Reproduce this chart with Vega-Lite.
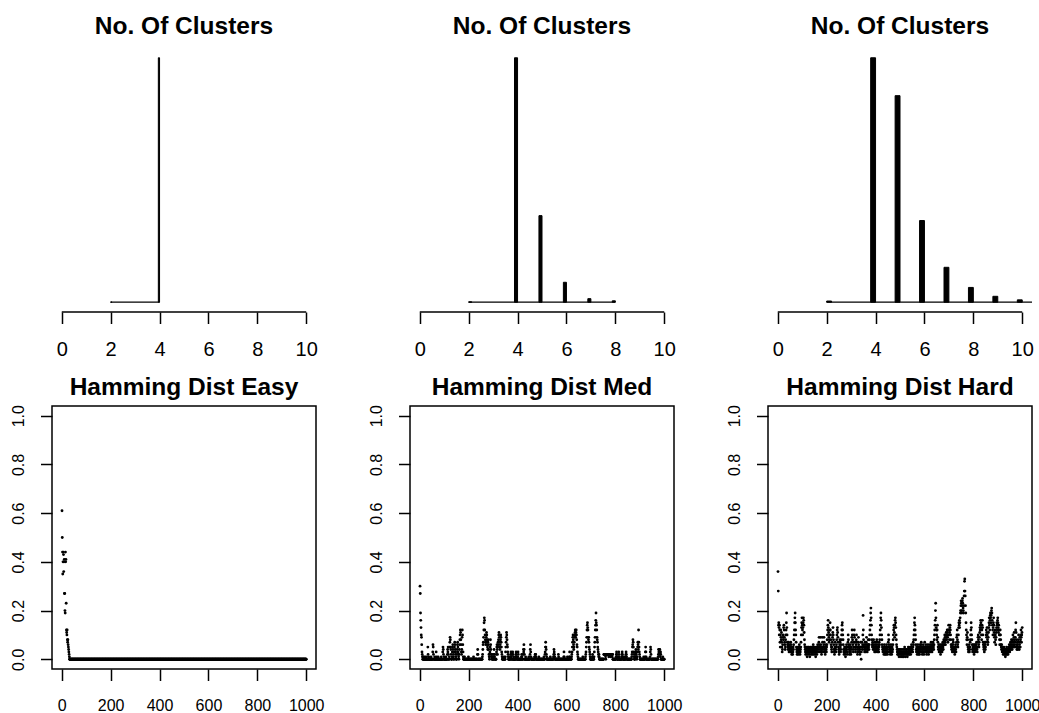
{
"$schema":"https://vega.github.io/schema/vega-lite/v6.json",
"padding":{"left":9,"top":14,"right":0,"bottom":0},
"background":"white",
"config":{
 "font":"Liberation Sans",
 "view":{"stroke":null},
 "axis":{"domain":false,"grid":false,"ticks":true,"tickColor":"#000","tickWidth":1.5,"tickSize":11.5,"labelColor":"#000","labelFont":"Liberation Sans","title":null,"labelOverlap":false,"labelFlush":false,"labelBound":false},
 "title":{"font":"Liberation Sans","fontSize":24.5,"fontWeight":"bold","color":"#000","baseline":"alphabetic","anchor":"middle","frame":"group"}
},
"datasets":{
 "hist":[
  {"p":1,"k":2,"c":1,"b0":2,"b1":2.05},{"p":1,"k":4,"c":999,"b0":3.95,"b1":4},
  {"p":2,"k":2,"c":1,"b0":2,"b1":2.125},{"p":2,"k":4,"c":686,"b0":3.875,"b1":4},{"p":2,"k":5,"c":243,"b0":4.875,"b1":5},{"p":2,"k":6,"c":56,"b0":5.875,"b1":6},{"p":2,"k":7,"c":10,"b0":6.875,"b1":7},{"p":2,"k":8,"c":4,"b0":7.875,"b1":8},
  {"p":3,"k":2,"c":2,"b0":2,"b1":2.2},{"p":3,"k":4,"c":413,"b0":3.8,"b1":4},{"p":3,"k":5,"c":349,"b0":4.8,"b1":5},{"p":3,"k":6,"c":138,"b0":5.8,"b1":6},{"p":3,"k":7,"c":59,"b0":6.8,"b1":7},{"p":3,"k":8,"c":25,"b0":7.8,"b1":8},{"p":3,"k":9,"c":10,"b0":8.8,"b1":9},{"p":3,"k":10,"c":4,"b0":9.8,"b1":10}
 ],
 "range":[{"p":1,"lo":2,"hi":4},{"p":2,"lo":2,"hi":8},{"p":3,"lo":2,"hi":11}],
 "ham":[
{"i":1,"e":0.61,"m":0.3,"h":0.36},{"i":2,"e":0.5,"m":0.27,"h":0.28},{"i":3,"e":0.44,"m":0.19,"h":0.14},{"i":4,"e":0.35,"m":0.16,"h":0.15},{"i":5,"e":0.4,"m":0.13,"h":0.13},{"i":6,"e":0.44,"m":0.1,"h":0.1},{"i":7,"e":0.43,"m":0.09,"h":0.14},{"i":8,"e":0.36,"m":0.06,"h":0.12},{"i":9,"e":0.4,"m":0.03,"h":0.07},{"i":10,"e":0.41,"m":0.02,"h":0.05},
{"i":11,"e":0.27,"m":0.01,"h":0.1},{"i":12,"e":0.27,"m":0,"h":0.12},{"i":13,"e":0.2,"m":0.01,"h":0.09},{"i":14,"e":0.19,"m":0,"h":0.08},{"i":15,"e":0.44,"m":0,"h":0.11},{"i":16,"e":0.4,"m":0.01,"h":0.07},{"i":17,"e":0.41,"m":0,"h":0.05},{"i":18,"e":0.23,"m":0,"h":0.03},{"i":19,"e":0.12,"m":0,"h":0.04},{"i":20,"e":0.11,"m":0,"h":0.06},
{"i":21,"e":0.1,"m":0,"h":0.09},{"i":22,"e":0.12,"m":0.01,"h":0.1},{"i":23,"e":0.08,"m":0,"h":0.08},{"i":24,"e":0.07,"m":0,"h":0.13},{"i":25,"e":0.08,"m":0,"h":0.14},{"i":26,"e":0.06,"m":0,"h":0.12},{"i":27,"e":0.05,"m":0,"h":0.09},{"i":28,"e":0.04,"m":0.01,"h":0.07},{"i":29,"e":0.03,"m":0,"h":0.06},{"i":30,"e":0.02,"m":0,"h":0.04},
{"i":31,"e":0.01,"m":0,"h":0.05},{"i":32,"e":0,"m":0,"h":0.08},{"i":33,"e":0,"m":0.05,"h":0.1},{"i":34,"e":0,"m":0.02,"h":0.12},{"i":35,"e":0,"m":0,"h":0.15},{"i":36,"e":0,"m":0,"h":0.19},{"i":37,"e":0,"m":0.01,"h":0.13},{"i":38,"e":0,"m":0,"h":0.1},{"i":39,"e":0,"m":0,"h":0.07},{"i":40,"e":0,"m":0,"h":0.06},
{"i":41,"e":0,"m":0,"h":0.05},{"i":42,"e":0,"m":0,"h":0.04},{"i":43,"e":0,"m":0,"h":0.06},{"i":44,"e":0,"m":0,"h":0.07},{"i":45,"e":0,"m":0,"h":0.05},{"i":46,"e":0,"m":0.01,"h":0.03},{"i":47,"e":0,"m":0,"h":0.04},{"i":48,"e":0,"m":0,"h":0.06},{"i":49,"e":0,"m":0,"h":0.05},{"i":50,"e":0,"m":0,"h":0.04},
{"i":51,"e":0,"m":0,"h":0.03},{"i":52,"e":0,"m":0,"h":0.05},{"i":53,"e":0,"m":0.03,"h":0.07},{"i":54,"e":0,"m":0.06,"h":0.06},{"i":55,"e":0,"m":0.05,"h":0.04},{"i":56,"e":0,"m":0.02,"h":0.03},{"i":57,"e":0,"m":0,"h":0.02},{"i":58,"e":0,"m":0,"h":0.04},{"i":59,"e":0,"m":0,"h":0.05},{"i":60,"e":0,"m":0,"h":0.03},
{"i":61,"e":0,"m":0.01,"h":0.02},{"i":62,"e":0,"m":0,"h":0.03},{"i":63,"e":0,"m":0,"h":0.05},{"i":64,"e":0,"m":0,"h":0.04},{"i":65,"e":0,"m":0,"h":0.06},{"i":66,"e":0,"m":0,"h":0.08},{"i":67,"e":0,"m":0.03,"h":0.1},{"i":68,"e":0,"m":0.01,"h":0.12},{"i":69,"e":0,"m":0,"h":0.15},{"i":70,"e":0,"m":0,"h":0.17},
{"i":71,"e":0,"m":0,"h":0.19},{"i":72,"e":0,"m":0,"h":0.15},{"i":73,"e":0,"m":0,"h":0.12},{"i":74,"e":0,"m":0,"h":0.1},{"i":75,"e":0,"m":0.01,"h":0.07},{"i":76,"e":0,"m":0,"h":0.05},{"i":77,"e":0,"m":0,"h":0.04},{"i":78,"e":0,"m":0,"h":0.03},{"i":79,"e":0,"m":0,"h":0.02},{"i":80,"e":0,"m":0,"h":0.03},
{"i":81,"e":0,"m":0,"h":0.04},{"i":82,"e":0,"m":0,"h":0.05},{"i":83,"e":0,"m":0,"h":0.03},{"i":84,"e":0,"m":0,"h":0.02},{"i":85,"e":0,"m":0,"h":0.04},{"i":86,"e":0,"m":0,"h":0.03},{"i":87,"e":0,"m":0,"h":0.05},{"i":88,"e":0,"m":0.01,"h":0.06},{"i":89,"e":0,"m":0,"h":0.04},{"i":90,"e":0,"m":0,"h":0.03},
{"i":91,"e":0,"m":0,"h":0.02},{"i":92,"e":0,"m":0,"h":0.03},{"i":93,"e":0,"m":0,"h":0.04},{"i":94,"e":0,"m":0.03,"h":0.05},{"i":95,"e":0,"m":0.05,"h":0.07},{"i":96,"e":0,"m":0.04,"h":0.1},{"i":97,"e":0,"m":0.02,"h":0.13},{"i":98,"e":0,"m":0,"h":0.15},{"i":99,"e":0,"m":0,"h":0.17},{"i":100,"e":0,"m":0.01,"h":0.14},
{"i":101,"e":0,"m":0,"h":0.12},{"i":102,"e":0,"m":0,"h":0.1},{"i":103,"e":0,"m":0,"h":0.13},{"i":104,"e":0,"m":0,"h":0.15},{"i":105,"e":0,"m":0,"h":0.17},{"i":106,"e":0,"m":0,"h":0.16},{"i":107,"e":0,"m":0.01,"h":0.14},{"i":108,"e":0,"m":0,"h":0.11},{"i":109,"e":0,"m":0,"h":0.08},{"i":110,"e":0,"m":0,"h":0.06},
{"i":111,"e":0,"m":0,"h":0.05},{"i":112,"e":0,"m":0,"h":0.04},{"i":113,"e":0,"m":0.02,"h":0.03},{"i":114,"e":0,"m":0.04,"h":0.02},{"i":115,"e":0,"m":0.03,"h":0.04},{"i":116,"e":0,"m":0.05,"h":0.03},{"i":117,"e":0,"m":0.02,"h":0.05},{"i":118,"e":0,"m":0,"h":0.04},{"i":119,"e":0,"m":0,"h":0.02},{"i":120,"e":0,"m":0,"h":0.01},
{"i":121,"e":0,"m":0.01,"h":0.03},{"i":122,"e":0,"m":0.05,"h":0.04},{"i":123,"e":0,"m":0.07,"h":0.05},{"i":124,"e":0,"m":0.09,"h":0.03},{"i":125,"e":0,"m":0.08,"h":0.02},{"i":126,"e":0,"m":0.05,"h":0.04},{"i":127,"e":0,"m":0.04,"h":0.05},{"i":128,"e":0,"m":0.02,"h":0.04},{"i":129,"e":0,"m":0,"h":0.03},{"i":130,"e":0,"m":0,"h":0.02},
{"i":131,"e":0,"m":0,"h":0.01},{"i":132,"e":0,"m":0.01,"h":0.03},{"i":133,"e":0,"m":0.03,"h":0.04},{"i":134,"e":0,"m":0.05,"h":0.05},{"i":135,"e":0,"m":0.06,"h":0.04},{"i":136,"e":0,"m":0.04,"h":0.03},{"i":137,"e":0,"m":0.02,"h":0.02},{"i":138,"e":0,"m":0.01,"h":0.03},{"i":139,"e":0,"m":0,"h":0.05},{"i":140,"e":0,"m":0,"h":0.04},
{"i":141,"e":0,"m":0.03,"h":0.03},{"i":142,"e":0,"m":0.05,"h":0.02},{"i":143,"e":0,"m":0.07,"h":0.04},{"i":144,"e":0,"m":0.06,"h":0.05},{"i":145,"e":0,"m":0.04,"h":0.06},{"i":146,"e":0,"m":0.02,"h":0.04},{"i":147,"e":0,"m":0.03,"h":0.03},{"i":148,"e":0,"m":0.01,"h":0.02},{"i":149,"e":0,"m":0,"h":0.03},{"i":150,"e":0,"m":0,"h":0.04},
{"i":151,"e":0,"m":0,"h":0.05},{"i":152,"e":0,"m":0.02,"h":0.04},{"i":153,"e":0,"m":0.04,"h":0.03},{"i":154,"e":0,"m":0.06,"h":0.02},{"i":155,"e":0,"m":0.07,"h":0.01},{"i":156,"e":0,"m":0.05,"h":0.03},{"i":157,"e":0,"m":0.03,"h":0.04},{"i":158,"e":0,"m":0.02,"h":0.05},{"i":159,"e":0,"m":0.01,"h":0.03},{"i":160,"e":0,"m":0,"h":0.02},
{"i":161,"e":0,"m":0.02,"h":0.04},{"i":162,"e":0,"m":0.04,"h":0.05},{"i":163,"e":0,"m":0.06,"h":0.06},{"i":164,"e":0,"m":0.08,"h":0.05},{"i":165,"e":0,"m":0.1,"h":0.04},{"i":166,"e":0,"m":0.12,"h":0.03},{"i":167,"e":0,"m":0.11,"h":0.05},{"i":168,"e":0,"m":0.08,"h":0.07},{"i":169,"e":0,"m":0.06,"h":0.09},{"i":170,"e":0,"m":0.03,"h":0.06},
{"i":171,"e":0,"m":0.02,"h":0.05},{"i":172,"e":0,"m":0.04,"h":0.04},{"i":173,"e":0,"m":0.09,"h":0.03},{"i":174,"e":0,"m":0.12,"h":0.05},{"i":175,"e":0,"m":0.1,"h":0.09},{"i":176,"e":0,"m":0.06,"h":0.06},{"i":177,"e":0,"m":0.03,"h":0.04},{"i":178,"e":0,"m":0.01,"h":0.03},{"i":179,"e":0,"m":0,"h":0.02},{"i":180,"e":0,"m":0,"h":0.04},
{"i":181,"e":0,"m":0,"h":0.05},{"i":182,"e":0,"m":0,"h":0.09},{"i":183,"e":0,"m":0.01,"h":0.07},{"i":184,"e":0,"m":0,"h":0.05},{"i":185,"e":0,"m":0,"h":0.04},{"i":186,"e":0,"m":0,"h":0.03},{"i":187,"e":0,"m":0,"h":0.05},{"i":188,"e":0,"m":0,"h":0.06},{"i":189,"e":0,"m":0,"h":0.09},{"i":190,"e":0,"m":0,"h":0.07},
{"i":191,"e":0,"m":0,"h":0.05},{"i":192,"e":0,"m":0,"h":0.04},{"i":193,"e":0,"m":0,"h":0.03},{"i":194,"e":0,"m":0,"h":0.02},{"i":195,"e":0,"m":0,"h":0.04},{"i":196,"e":0,"m":0,"h":0.05},{"i":197,"e":0,"m":0,"h":0.06},{"i":198,"e":0,"m":0,"h":0.04},{"i":199,"e":0,"m":0.01,"h":0.03},{"i":200,"e":0,"m":0,"h":0.05},
{"i":201,"e":0,"m":0,"h":0.06},{"i":202,"e":0,"m":0,"h":0.08},{"i":203,"e":0,"m":0,"h":0.1},{"i":204,"e":0,"m":0,"h":0.12},{"i":205,"e":0,"m":0,"h":0.14},{"i":206,"e":0,"m":0,"h":0.16},{"i":207,"e":0,"m":0,"h":0.13},{"i":208,"e":0,"m":0,"h":0.11},{"i":209,"e":0,"m":0,"h":0.09},{"i":210,"e":0,"m":0,"h":0.07},
{"i":211,"e":0,"m":0,"h":0.08},{"i":212,"e":0,"m":0,"h":0.1},{"i":213,"e":0,"m":0,"h":0.12},{"i":214,"e":0,"m":0,"h":0.15},{"i":215,"e":0,"m":0,"h":0.12},{"i":216,"e":0,"m":0,"h":0.1},{"i":217,"e":0,"m":0,"h":0.08},{"i":218,"e":0,"m":0,"h":0.06},{"i":219,"e":0,"m":0,"h":0.05},{"i":220,"e":0,"m":0.01,"h":0.04},
{"i":221,"e":0,"m":0,"h":0.03},{"i":222,"e":0,"m":0,"h":0.05},{"i":223,"e":0,"m":0,"h":0.07},{"i":224,"e":0,"m":0,"h":0.09},{"i":225,"e":0,"m":0,"h":0.11},{"i":226,"e":0,"m":0,"h":0.13},{"i":227,"e":0,"m":0,"h":0.1},{"i":228,"e":0,"m":0,"h":0.08},{"i":229,"e":0,"m":0,"h":0.06},{"i":230,"e":0,"m":0,"h":0.04},
{"i":231,"e":0,"m":0,"h":0.03},{"i":232,"e":0,"m":0,"h":0.02},{"i":233,"e":0,"m":0,"h":0.04},{"i":234,"e":0,"m":0,"h":0.05},{"i":235,"e":0,"m":0,"h":0.07},{"i":236,"e":0,"m":0.02,"h":0.05},{"i":237,"e":0,"m":0.04,"h":0.04},{"i":238,"e":0,"m":0.02,"h":0.03},{"i":239,"e":0,"m":0,"h":0.05},{"i":240,"e":0,"m":0,"h":0.06},
{"i":241,"e":0,"m":0,"h":0.08},{"i":242,"e":0,"m":0,"h":0.1},{"i":243,"e":0,"m":0,"h":0.12},{"i":244,"e":0,"m":0,"h":0.13},{"i":245,"e":0,"m":0,"h":0.11},{"i":246,"e":0,"m":0,"h":0.09},{"i":247,"e":0,"m":0,"h":0.07},{"i":248,"e":0,"m":0,"h":0.05},{"i":249,"e":0,"m":0,"h":0.04},{"i":250,"e":0,"m":0,"h":0.03},
{"i":251,"e":0,"m":0,"h":0.02},{"i":252,"e":0,"m":0,"h":0.04},{"i":253,"e":0,"m":0,"h":0.06},{"i":254,"e":0,"m":0,"h":0.08},{"i":255,"e":0,"m":0,"h":0.07},{"i":256,"e":0,"m":0.01,"h":0.05},{"i":257,"e":0,"m":0.02,"h":0.03},{"i":258,"e":0,"m":0.04,"h":0.04},{"i":259,"e":0,"m":0.06,"h":0.06},{"i":260,"e":0,"m":0.07,"h":0.08},
{"i":261,"e":0,"m":0.09,"h":0.1},{"i":262,"e":0,"m":0.12,"h":0.12},{"i":263,"e":0,"m":0.15,"h":0.14},{"i":264,"e":0,"m":0.17,"h":0.15},{"i":265,"e":0,"m":0.16,"h":0.12},{"i":266,"e":0,"m":0.12,"h":0.1},{"i":267,"e":0,"m":0.1,"h":0.08},{"i":268,"e":0,"m":0.08,"h":0.06},{"i":269,"e":0,"m":0.07,"h":0.04},{"i":270,"e":0,"m":0.06,"h":0.03},
{"i":271,"e":0,"m":0.07,"h":0.02},{"i":272,"e":0,"m":0.09,"h":0.03},{"i":273,"e":0,"m":0.11,"h":0.05},{"i":274,"e":0,"m":0.1,"h":0.04},{"i":275,"e":0,"m":0.08,"h":0.03},{"i":276,"e":0,"m":0.06,"h":0.02},{"i":277,"e":0,"m":0.05,"h":0.01},{"i":278,"e":0,"m":0.04,"h":0.03},{"i":279,"e":0,"m":0.07,"h":0.04},{"i":280,"e":0,"m":0.08,"h":0.05},
{"i":281,"e":0,"m":0.06,"h":0.06},{"i":282,"e":0,"m":0.04,"h":0.04},{"i":283,"e":0,"m":0.02,"h":0.03},{"i":284,"e":0,"m":0.01,"h":0.02},{"i":285,"e":0,"m":0,"h":0.03},{"i":286,"e":0,"m":0.02,"h":0.05},{"i":287,"e":0,"m":0.03,"h":0.07},{"i":288,"e":0,"m":0.05,"h":0.1},{"i":289,"e":0,"m":0.08,"h":0.08},{"i":290,"e":0,"m":0.06,"h":0.06},
{"i":291,"e":0,"m":0.04,"h":0.05},{"i":292,"e":0,"m":0.02,"h":0.04},{"i":293,"e":0,"m":0.01,"h":0.02},{"i":294,"e":0,"m":0,"h":0.03},{"i":295,"e":0,"m":0.01,"h":0.04},{"i":296,"e":0,"m":0.02,"h":0.06},{"i":297,"e":0,"m":0.01,"h":0.05},{"i":298,"e":0,"m":0,"h":0.03},{"i":299,"e":0,"m":0,"h":0.02},{"i":300,"e":0,"m":0,"h":0.04},
{"i":301,"e":0,"m":0,"h":0.05},{"i":302,"e":0,"m":0.01,"h":0.07},{"i":303,"e":0,"m":0.02,"h":0.09},{"i":304,"e":0,"m":0.04,"h":0.12},{"i":305,"e":0,"m":0.02,"h":0.1},{"i":306,"e":0,"m":0.01,"h":0.08},{"i":307,"e":0,"m":0,"h":0.06},{"i":308,"e":0,"m":0,"h":0.04},{"i":309,"e":0,"m":0,"h":0.03},{"i":310,"e":0,"m":0,"h":0.05},
{"i":311,"e":0,"m":0,"h":0.07},{"i":312,"e":0,"m":0,"h":0.1},{"i":313,"e":0,"m":0.02,"h":0.12},{"i":314,"e":0,"m":0.03,"h":0.09},{"i":315,"e":0,"m":0.05,"h":0.07},{"i":316,"e":0,"m":0.06,"h":0.05},{"i":317,"e":0,"m":0.04,"h":0.04},{"i":318,"e":0,"m":0.02,"h":0.03},{"i":319,"e":0,"m":0.05,"h":0.05},{"i":320,"e":0,"m":0.07,"h":0.06},
{"i":321,"e":0,"m":0.06,"h":0.08},{"i":322,"e":0,"m":0.08,"h":0.1},{"i":323,"e":0,"m":0.1,"h":0.07},{"i":324,"e":0,"m":0.11,"h":0.05},{"i":325,"e":0,"m":0.09,"h":0.04},{"i":326,"e":0,"m":0.07,"h":0.02},{"i":327,"e":0,"m":0.05,"h":0.03},{"i":328,"e":0,"m":0.04,"h":0.05},{"i":329,"e":0,"m":0.06,"h":0.07},{"i":330,"e":0,"m":0.08,"h":0.09},
{"i":331,"e":0,"m":0.1,"h":0.06},{"i":332,"e":0,"m":0.09,"h":0.04},{"i":333,"e":0,"m":0.07,"h":0.03},{"i":334,"e":0,"m":0.05,"h":0.05},{"i":335,"e":0,"m":0.03,"h":0.04},{"i":336,"e":0,"m":0.02,"h":0.02},{"i":337,"e":0,"m":0.01,"h":0.03},{"i":338,"e":0,"m":0,"h":0.05},{"i":339,"e":0,"m":0,"h":0.07},{"i":340,"e":0,"m":0,"h":0.05},
{"i":341,"e":0,"m":0,"h":0},{"i":342,"e":0,"m":0,"h":0.03},{"i":343,"e":0,"m":0,"h":0.05},{"i":344,"e":0,"m":0.01,"h":0.07},{"i":345,"e":0,"m":0,"h":0.05},{"i":346,"e":0,"m":0,"h":0.04},{"i":347,"e":0,"m":0,"h":0.06},{"i":348,"e":0,"m":0,"h":0.1},{"i":349,"e":0,"m":0,"h":0.18},{"i":350,"e":0,"m":0.01,"h":0.12},
{"i":351,"e":0,"m":0.03,"h":0.08},{"i":352,"e":0,"m":0.05,"h":0.06},{"i":353,"e":0,"m":0.07,"h":0.05},{"i":354,"e":0,"m":0.09,"h":0.04},{"i":355,"e":0,"m":0.11,"h":0.03},{"i":356,"e":0,"m":0.1,"h":0.05},{"i":357,"e":0,"m":0.08,"h":0.07},{"i":358,"e":0,"m":0.06,"h":0.06},{"i":359,"e":0,"m":0.05,"h":0.04},{"i":360,"e":0,"m":0.03,"h":0.03},
{"i":361,"e":0,"m":0.02,"h":0.05},{"i":362,"e":0,"m":0.01,"h":0.07},{"i":363,"e":0,"m":0,"h":0.09},{"i":364,"e":0,"m":0,"h":0.06},{"i":365,"e":0,"m":0,"h":0.04},{"i":366,"e":0,"m":0.01,"h":0.03},{"i":367,"e":0,"m":0,"h":0.05},{"i":368,"e":0,"m":0,"h":0.04},{"i":369,"e":0,"m":0,"h":0.06},{"i":370,"e":0,"m":0,"h":0.08},
{"i":371,"e":0,"m":0.01,"h":0.06},{"i":372,"e":0,"m":0.02,"h":0.05},{"i":373,"e":0,"m":0.03,"h":0.04},{"i":374,"e":0,"m":0.02,"h":0.06},{"i":375,"e":0,"m":0.01,"h":0.08},{"i":376,"e":0,"m":0,"h":0.1},{"i":377,"e":0,"m":0,"h":0.12},{"i":378,"e":0,"m":0,"h":0.14},{"i":379,"e":0,"m":0.02,"h":0.16},{"i":380,"e":0,"m":0.03,"h":0.19},
{"i":381,"e":0,"m":0.02,"h":0.21},{"i":382,"e":0,"m":0,"h":0.17},{"i":383,"e":0,"m":0,"h":0.14},{"i":384,"e":0,"m":0.01,"h":0.1},{"i":385,"e":0,"m":0,"h":0.08},{"i":386,"e":0,"m":0,"h":0.06},{"i":387,"e":0,"m":0,"h":0.05},{"i":388,"e":0,"m":0,"h":0.07},{"i":389,"e":0,"m":0,"h":0.06},{"i":390,"e":0,"m":0,"h":0.04},
{"i":391,"e":0,"m":0,"h":0.05},{"i":392,"e":0,"m":0.01,"h":0.08},{"i":393,"e":0,"m":0.02,"h":0.06},{"i":394,"e":0,"m":0.03,"h":0.05},{"i":395,"e":0,"m":0.02,"h":0.04},{"i":396,"e":0,"m":0.01,"h":0.03},{"i":397,"e":0,"m":0,"h":0.05},{"i":398,"e":0,"m":0,"h":0.07},{"i":399,"e":0,"m":0,"h":0.06},{"i":400,"e":0,"m":0,"h":0.04},
{"i":401,"e":0,"m":0.01,"h":0.03},{"i":402,"e":0,"m":0.03,"h":0.05},{"i":403,"e":0,"m":0.02,"h":0.04},{"i":404,"e":0,"m":0,"h":0.06},{"i":405,"e":0,"m":0,"h":0.08},{"i":406,"e":0,"m":0,"h":0.07},{"i":407,"e":0,"m":0,"h":0.05},{"i":408,"e":0,"m":0,"h":0.04},{"i":409,"e":0,"m":0,"h":0.03},{"i":410,"e":0,"m":0,"h":0.05},
{"i":411,"e":0,"m":0,"h":0.06},{"i":412,"e":0,"m":0,"h":0.04},{"i":413,"e":0,"m":0,"h":0.03},{"i":414,"e":0,"m":0,"h":0.05},{"i":415,"e":0,"m":0,"h":0.07},{"i":416,"e":0,"m":0.01,"h":0.06},{"i":417,"e":0,"m":0.02,"h":0.08},{"i":418,"e":0,"m":0.01,"h":0.1},{"i":419,"e":0,"m":0,"h":0.12},{"i":420,"e":0,"m":0,"h":0.14},
{"i":421,"e":0,"m":0,"h":0.17},{"i":422,"e":0,"m":0,"h":0.19},{"i":423,"e":0,"m":0.02,"h":0.16},{"i":424,"e":0,"m":0.04,"h":0.13},{"i":425,"e":0,"m":0.03,"h":0.1},{"i":426,"e":0,"m":0.06,"h":0.08},{"i":427,"e":0,"m":0.04,"h":0.06},{"i":428,"e":0,"m":0.02,"h":0.05},{"i":429,"e":0,"m":0,"h":0.04},{"i":430,"e":0,"m":0,"h":0.03},
{"i":431,"e":0,"m":0,"h":0.04},{"i":432,"e":0,"m":0,"h":0.05},{"i":433,"e":0,"m":0.01,"h":0.03},{"i":434,"e":0,"m":0,"h":0.02},{"i":435,"e":0,"m":0,"h":0.04},{"i":436,"e":0,"m":0,"h":0.06},{"i":437,"e":0,"m":0,"h":0.05},{"i":438,"e":0,"m":0,"h":0.03},{"i":439,"e":0,"m":0,"h":0.02},{"i":440,"e":0,"m":0,"h":0.04},
{"i":441,"e":0,"m":0,"h":0.05},{"i":442,"e":0,"m":0,"h":0.03},{"i":443,"e":0,"m":0,"h":0.02},{"i":444,"e":0,"m":0,"h":0.04},{"i":445,"e":0,"m":0,"h":0.06},{"i":446,"e":0,"m":0.01,"h":0.05},{"i":447,"e":0,"m":0,"h":0.03},{"i":448,"e":0,"m":0,"h":0.04},{"i":449,"e":0,"m":0,"h":0.02},{"i":450,"e":0,"m":0,"h":0.03},
{"i":451,"e":0,"m":0.02,"h":0.05},{"i":452,"e":0,"m":0.04,"h":0.07},{"i":453,"e":0,"m":0.06,"h":0.1},{"i":454,"e":0,"m":0.03,"h":0.08},{"i":455,"e":0,"m":0.01,"h":0.06},{"i":456,"e":0,"m":0,"h":0.04},{"i":457,"e":0,"m":0,"h":0.03},{"i":458,"e":0,"m":0,"h":0.05},{"i":459,"e":0,"m":0,"h":0.04},{"i":460,"e":0,"m":0,"h":0.02},
{"i":461,"e":0,"m":0,"h":0.03},{"i":462,"e":0,"m":0,"h":0.04},{"i":463,"e":0,"m":0,"h":0.06},{"i":464,"e":0,"m":0,"h":0.05},{"i":465,"e":0,"m":0,"h":0.03},{"i":466,"e":0,"m":0,"h":0.02},{"i":467,"e":0,"m":0,"h":0.04},{"i":468,"e":0,"m":0,"h":0.05},{"i":469,"e":0,"m":0.01,"h":0.03},{"i":470,"e":0,"m":0,"h":0.04},
{"i":471,"e":0,"m":0,"h":0.06},{"i":472,"e":0,"m":0.02,"h":0.08},{"i":473,"e":0,"m":0.02,"h":0.1},{"i":474,"e":0,"m":0.02,"h":0.12},{"i":475,"e":0,"m":0.01,"h":0.14},{"i":476,"e":0,"m":0,"h":0.13},{"i":477,"e":0,"m":0,"h":0.11},{"i":478,"e":0,"m":0,"h":0.09},{"i":479,"e":0,"m":0,"h":0.14},{"i":480,"e":0,"m":0,"h":0.16},
{"i":481,"e":0,"m":0,"h":0.17},{"i":482,"e":0,"m":0,"h":0.15},{"i":483,"e":0,"m":0,"h":0.13},{"i":484,"e":0,"m":0,"h":0.1},{"i":485,"e":0,"m":0,"h":0.08},{"i":486,"e":0,"m":0,"h":0.06},{"i":487,"e":0,"m":0.01,"h":0.05},{"i":488,"e":0,"m":0,"h":0.04},{"i":489,"e":0,"m":0,"h":0.03},{"i":490,"e":0,"m":0,"h":0.02},
{"i":491,"e":0,"m":0,"h":0.03},{"i":492,"e":0,"m":0,"h":0.02},{"i":493,"e":0,"m":0,"h":0.04},{"i":494,"e":0,"m":0,"h":0.03},{"i":495,"e":0,"m":0,"h":0.02},{"i":496,"e":0,"m":0,"h":0.01},{"i":497,"e":0,"m":0,"h":0.03},{"i":498,"e":0,"m":0,"h":0.04},{"i":499,"e":0,"m":0,"h":0.02},{"i":500,"e":0,"m":0,"h":0.03},
{"i":501,"e":0,"m":0,"h":0.04},{"i":502,"e":0,"m":0,"h":0.03},{"i":503,"e":0,"m":0,"h":0.02},{"i":504,"e":0,"m":0,"h":0.01},{"i":505,"e":0,"m":0,"h":0.02},{"i":506,"e":0,"m":0,"h":0.03},{"i":507,"e":0,"m":0,"h":0.04},{"i":508,"e":0,"m":0.01,"h":0.02},{"i":509,"e":0,"m":0,"h":0.01},{"i":510,"e":0,"m":0,"h":0.03},
{"i":511,"e":0,"m":0,"h":0.02},{"i":512,"e":0,"m":0.02,"h":0.03},{"i":513,"e":0,"m":0.03,"h":0.04},{"i":514,"e":0,"m":0.05,"h":0.02},{"i":515,"e":0,"m":0.07,"h":0.01},{"i":516,"e":0,"m":0.05,"h":0.02},{"i":517,"e":0,"m":0.04,"h":0.03},{"i":518,"e":0,"m":0.02,"h":0.04},{"i":519,"e":0,"m":0.01,"h":0.05},{"i":520,"e":0,"m":0,"h":0.03},
{"i":521,"e":0,"m":0,"h":0.02},{"i":522,"e":0,"m":0,"h":0.01},{"i":523,"e":0,"m":0,"h":0.03},{"i":524,"e":0,"m":0,"h":0.04},{"i":525,"e":0,"m":0,"h":0.02},{"i":526,"e":0,"m":0,"h":0.03},{"i":527,"e":0,"m":0,"h":0.04},{"i":528,"e":0,"m":0,"h":0.03},{"i":529,"e":0,"m":0,"h":0.02},{"i":530,"e":0,"m":0,"h":0.01},
{"i":531,"e":0,"m":0,"h":0.02},{"i":532,"e":0,"m":0,"h":0.03},{"i":533,"e":0,"m":0,"h":0.04},{"i":534,"e":0,"m":0.01,"h":0.05},{"i":535,"e":0,"m":0,"h":0.03},{"i":536,"e":0,"m":0,"h":0.02},{"i":537,"e":0,"m":0,"h":0.04},{"i":538,"e":0,"m":0,"h":0.03},{"i":539,"e":0,"m":0,"h":0.02},{"i":540,"e":0,"m":0,"h":0.03},
{"i":541,"e":0,"m":0,"h":0.04},{"i":542,"e":0,"m":0,"h":0.05},{"i":543,"e":0,"m":0,"h":0.03},{"i":544,"e":0,"m":0,"h":0.02},{"i":545,"e":0,"m":0,"h":0.04},{"i":546,"e":0,"m":0,"h":0.05},{"i":547,"e":0,"m":0.01,"h":0.06},{"i":548,"e":0,"m":0.02,"h":0.04},{"i":549,"e":0,"m":0.04,"h":0.03},{"i":550,"e":0,"m":0.03,"h":0.05},
{"i":551,"e":0,"m":0.02,"h":0.04},{"i":552,"e":0,"m":0.01,"h":0.03},{"i":553,"e":0,"m":0,"h":0.05},{"i":554,"e":0,"m":0,"h":0.07},{"i":555,"e":0,"m":0,"h":0.06},{"i":556,"e":0,"m":0,"h":0.08},{"i":557,"e":0,"m":0,"h":0.1},{"i":558,"e":0,"m":0,"h":0.12},{"i":559,"e":0,"m":0,"h":0.15},{"i":560,"e":0,"m":0,"h":0.17},
{"i":561,"e":0,"m":0,"h":0.14},{"i":562,"e":0,"m":0,"h":0.12},{"i":563,"e":0,"m":0,"h":0.1},{"i":564,"e":0,"m":0,"h":0.08},{"i":565,"e":0,"m":0,"h":0.06},{"i":566,"e":0,"m":0,"h":0.04},{"i":567,"e":0,"m":0.02,"h":0.03},{"i":568,"e":0,"m":0.01,"h":0.05},{"i":569,"e":0,"m":0,"h":0.04},{"i":570,"e":0,"m":0,"h":0.02},
{"i":571,"e":0,"m":0,"h":0.03},{"i":572,"e":0,"m":0,"h":0.05},{"i":573,"e":0,"m":0,"h":0.06},{"i":574,"e":0,"m":0,"h":0.04},{"i":575,"e":0,"m":0,"h":0.03},{"i":576,"e":0,"m":0,"h":0.02},{"i":577,"e":0,"m":0,"h":0.04},{"i":578,"e":0,"m":0,"h":0.05},{"i":579,"e":0,"m":0,"h":0.03},{"i":580,"e":0,"m":0,"h":0.02},
{"i":581,"e":0,"m":0,"h":0.04},{"i":582,"e":0,"m":0,"h":0.06},{"i":583,"e":0,"m":0,"h":0.05},{"i":584,"e":0,"m":0,"h":0.03},{"i":585,"e":0,"m":0,"h":0.04},{"i":586,"e":0,"m":0,"h":0.06},{"i":587,"e":0,"m":0,"h":0.07},{"i":588,"e":0,"m":0,"h":0.05},{"i":589,"e":0,"m":0.01,"h":0.03},{"i":590,"e":0,"m":0.03,"h":0.04},
{"i":591,"e":0,"m":0.01,"h":0.02},{"i":592,"e":0,"m":0,"h":0.03},{"i":593,"e":0,"m":0,"h":0.05},{"i":594,"e":0,"m":0,"h":0.04},{"i":595,"e":0,"m":0,"h":0.06},{"i":596,"e":0,"m":0,"h":0.05},{"i":597,"e":0,"m":0,"h":0.03},{"i":598,"e":0,"m":0,"h":0.02},{"i":599,"e":0,"m":0,"h":0.04},{"i":600,"e":0,"m":0,"h":0.05},
{"i":601,"e":0,"m":0,"h":0.07},{"i":602,"e":0,"m":0,"h":0.05},{"i":603,"e":0,"m":0,"h":0.04},{"i":604,"e":0,"m":0.01,"h":0.03},{"i":605,"e":0,"m":0,"h":0.05},{"i":606,"e":0,"m":0,"h":0.06},{"i":607,"e":0,"m":0,"h":0.04},{"i":608,"e":0,"m":0,"h":0.03},{"i":609,"e":0,"m":0,"h":0.02},{"i":610,"e":0,"m":0,"h":0.04},
{"i":611,"e":0,"m":0,"h":0.05},{"i":612,"e":0,"m":0.01,"h":0.03},{"i":613,"e":0,"m":0.03,"h":0.04},{"i":614,"e":0,"m":0.01,"h":0.06},{"i":615,"e":0,"m":0,"h":0.05},{"i":616,"e":0,"m":0,"h":0.03},{"i":617,"e":0,"m":0,"h":0.02},{"i":618,"e":0,"m":0,"h":0.04},{"i":619,"e":0,"m":0,"h":0.05},{"i":620,"e":0,"m":0,"h":0.03},
{"i":621,"e":0,"m":0.01,"h":0.04},{"i":622,"e":0,"m":0.02,"h":0.06},{"i":623,"e":0,"m":0.03,"h":0.05},{"i":624,"e":0,"m":0.05,"h":0.04},{"i":625,"e":0,"m":0.07,"h":0.03},{"i":626,"e":0,"m":0.09,"h":0.05},{"i":627,"e":0,"m":0.1,"h":0.07},{"i":628,"e":0,"m":0.08,"h":0.06},{"i":629,"e":0,"m":0.06,"h":0.04},{"i":630,"e":0,"m":0.04,"h":0.05},
{"i":631,"e":0,"m":0.05,"h":0.03},{"i":632,"e":0,"m":0.07,"h":0.04},{"i":633,"e":0,"m":0.09,"h":0.06},{"i":634,"e":0,"m":0.1,"h":0.05},{"i":635,"e":0,"m":0.11,"h":0.07},{"i":636,"e":0,"m":0.12,"h":0.06},{"i":637,"e":0,"m":0.1,"h":0.05},{"i":638,"e":0,"m":0.09,"h":0.04},{"i":639,"e":0,"m":0.11,"h":0.06},{"i":640,"e":0,"m":0.12,"h":0.08},
{"i":641,"e":0,"m":0.1,"h":0.1},{"i":642,"e":0,"m":0.08,"h":0.12},{"i":643,"e":0,"m":0.06,"h":0.14},{"i":644,"e":0,"m":0.05,"h":0.16},{"i":645,"e":0,"m":0.03,"h":0.2},{"i":646,"e":0,"m":0.02,"h":0.23},{"i":647,"e":0,"m":0.01,"h":0.17},{"i":648,"e":0,"m":0,"h":0.13},{"i":649,"e":0,"m":0,"h":0.12},{"i":650,"e":0,"m":0,"h":0.1},
{"i":651,"e":0,"m":0,"h":0.08},{"i":652,"e":0,"m":0,"h":0.12},{"i":653,"e":0,"m":0,"h":0.14},{"i":654,"e":0,"m":0,"h":0.09},{"i":655,"e":0,"m":0,"h":0.07},{"i":656,"e":0,"m":0,"h":0.05},{"i":657,"e":0,"m":0,"h":0.04},{"i":658,"e":0,"m":0,"h":0.06},{"i":659,"e":0,"m":0,"h":0.05},{"i":660,"e":0,"m":0,"h":0.03},
{"i":661,"e":0,"m":0,"h":0.04},{"i":662,"e":0,"m":0,"h":0.03},{"i":663,"e":0,"m":0,"h":0.05},{"i":664,"e":0,"m":0,"h":0.06},{"i":665,"e":0,"m":0,"h":0.04},{"i":666,"e":0,"m":0,"h":0.02},{"i":667,"e":0,"m":0.01,"h":0.03},{"i":668,"e":0,"m":0,"h":0.05},{"i":669,"e":0,"m":0,"h":0.04},{"i":670,"e":0,"m":0,"h":0.06},
{"i":671,"e":0,"m":0,"h":0.05},{"i":672,"e":0,"m":0,"h":0.03},{"i":673,"e":0,"m":0,"h":0.04},{"i":674,"e":0,"m":0,"h":0.06},{"i":675,"e":0,"m":0,"h":0.07},{"i":676,"e":0,"m":0,"h":0.05},{"i":677,"e":0,"m":0,"h":0.04},{"i":678,"e":0,"m":0.01,"h":0.06},{"i":679,"e":0,"m":0.02,"h":0.08},{"i":680,"e":0,"m":0.03,"h":0.07},
{"i":681,"e":0,"m":0.05,"h":0.06},{"i":682,"e":0,"m":0.07,"h":0.08},{"i":683,"e":0,"m":0.09,"h":0.1},{"i":684,"e":0,"m":0.12,"h":0.09},{"i":685,"e":0,"m":0.14,"h":0.07},{"i":686,"e":0,"m":0.15,"h":0.06},{"i":687,"e":0,"m":0.13,"h":0.08},{"i":688,"e":0,"m":0.12,"h":0.1},{"i":689,"e":0,"m":0.09,"h":0.11},{"i":690,"e":0,"m":0.08,"h":0.09},
{"i":691,"e":0,"m":0.09,"h":0.08},{"i":692,"e":0,"m":0.07,"h":0.1},{"i":693,"e":0,"m":0.05,"h":0.12},{"i":694,"e":0,"m":0.04,"h":0.11},{"i":695,"e":0,"m":0.03,"h":0.09},{"i":696,"e":0,"m":0.02,"h":0.07},{"i":697,"e":0,"m":0.01,"h":0.1},{"i":698,"e":0,"m":0,"h":0.12},{"i":699,"e":0,"m":0,"h":0.14},{"i":700,"e":0,"m":0,"h":0.12},
{"i":701,"e":0,"m":0,"h":0.1},{"i":702,"e":0,"m":0,"h":0.08},{"i":703,"e":0,"m":0,"h":0.11},{"i":704,"e":0,"m":0,"h":0.13},{"i":705,"e":0,"m":0,"h":0.14},{"i":706,"e":0,"m":0.01,"h":0.12},{"i":707,"e":0,"m":0.02,"h":0.1},{"i":708,"e":0,"m":0.01,"h":0.08},{"i":709,"e":0,"m":0,"h":0.06},{"i":710,"e":0,"m":0,"h":0.05},
{"i":711,"e":0,"m":0,"h":0.04},{"i":712,"e":0,"m":0,"h":0.06},{"i":713,"e":0,"m":0.01,"h":0.05},{"i":714,"e":0,"m":0.03,"h":0.03},{"i":715,"e":0,"m":0.05,"h":0.04},{"i":716,"e":0,"m":0.07,"h":0.06},{"i":717,"e":0,"m":0.09,"h":0.08},{"i":718,"e":0,"m":0.12,"h":0.07},{"i":719,"e":0,"m":0.14,"h":0.05},{"i":720,"e":0,"m":0.16,"h":0.04},
{"i":721,"e":0,"m":0.19,"h":0.03},{"i":722,"e":0,"m":0.15,"h":0.05},{"i":723,"e":0,"m":0.14,"h":0.04},{"i":724,"e":0,"m":0.12,"h":0.02},{"i":725,"e":0,"m":0.09,"h":0.03},{"i":726,"e":0,"m":0.08,"h":0.05},{"i":727,"e":0,"m":0.07,"h":0.06},{"i":728,"e":0,"m":0.05,"h":0.04},{"i":729,"e":0,"m":0.04,"h":0.03},{"i":730,"e":0,"m":0.03,"h":0.05},
{"i":731,"e":0,"m":0.02,"h":0.07},{"i":732,"e":0,"m":0.01,"h":0.09},{"i":733,"e":0,"m":0.02,"h":0.1},{"i":734,"e":0,"m":0.01,"h":0.12},{"i":735,"e":0,"m":0,"h":0.08},{"i":736,"e":0,"m":0,"h":0.06},{"i":737,"e":0,"m":0,"h":0.05},{"i":738,"e":0,"m":0,"h":0.07},{"i":739,"e":0,"m":0,"h":0.1},{"i":740,"e":0,"m":0,"h":0.13},
{"i":741,"e":0,"m":0,"h":0.15},{"i":742,"e":0,"m":0,"h":0.14},{"i":743,"e":0,"m":0,"h":0.16},{"i":744,"e":0,"m":0,"h":0.13},{"i":745,"e":0,"m":0,"h":0.15},{"i":746,"e":0,"m":0,"h":0.17},{"i":747,"e":0,"m":0,"h":0.19},{"i":748,"e":0,"m":0,"h":0.2},{"i":749,"e":0,"m":0,"h":0.22},{"i":750,"e":0,"m":0,"h":0.24},
{"i":751,"e":0,"m":0,"h":0.23},{"i":752,"e":0,"m":0,"h":0.2},{"i":753,"e":0,"m":0.02,"h":0.19},{"i":754,"e":0,"m":0.02,"h":0.22},{"i":755,"e":0,"m":0.02,"h":0.24},{"i":756,"e":0,"m":0.02,"h":0.25},{"i":757,"e":0,"m":0.02,"h":0.23},{"i":758,"e":0,"m":0.02,"h":0.21},{"i":759,"e":0,"m":0.02,"h":0.2},{"i":760,"e":0,"m":0.01,"h":0.19},
{"i":761,"e":0,"m":0,"h":0.22},{"i":762,"e":0,"m":0.02,"h":0.26},{"i":763,"e":0,"m":0.02,"h":0.28},{"i":764,"e":0,"m":0.02,"h":0.32},{"i":765,"e":0,"m":0.02,"h":0.33},{"i":766,"e":0,"m":0.02,"h":0.28},{"i":767,"e":0,"m":0.02,"h":0.26},{"i":768,"e":0,"m":0.02,"h":0.22},{"i":769,"e":0,"m":0.02,"h":0.19},{"i":770,"e":0,"m":0.02,"h":0.15},
{"i":771,"e":0,"m":0.02,"h":0.12},{"i":772,"e":0,"m":0.02,"h":0.1},{"i":773,"e":0,"m":0.01,"h":0.08},{"i":774,"e":0,"m":0.02,"h":0.06},{"i":775,"e":0,"m":0.02,"h":0.09},{"i":776,"e":0,"m":0.02,"h":0.11},{"i":777,"e":0,"m":0.02,"h":0.08},{"i":778,"e":0,"m":0.02,"h":0.05},{"i":779,"e":0,"m":0.02,"h":0.04},{"i":780,"e":0,"m":0.01,"h":0.03},
{"i":781,"e":0,"m":0.02,"h":0.05},{"i":782,"e":0,"m":0.02,"h":0.04},{"i":783,"e":0,"m":0.02,"h":0.06},{"i":784,"e":0,"m":0.02,"h":0.03},{"i":785,"e":0,"m":0.02,"h":0.04},{"i":786,"e":0,"m":0.02,"h":0.05},{"i":787,"e":0,"m":0.01,"h":0.07},{"i":788,"e":0,"m":0.02,"h":0.08},{"i":789,"e":0,"m":0.02,"h":0.1},{"i":790,"e":0,"m":0,"h":0.12},
{"i":791,"e":0,"m":0,"h":0.15},{"i":792,"e":0,"m":0,"h":0.13},{"i":793,"e":0,"m":0,"h":0.1},{"i":794,"e":0,"m":0,"h":0.08},{"i":795,"e":0,"m":0,"h":0.06},{"i":796,"e":0,"m":0,"h":0.04},{"i":797,"e":0,"m":0,"h":0.03},{"i":798,"e":0,"m":0,"h":0.05},{"i":799,"e":0,"m":0,"h":0.04},{"i":800,"e":0,"m":0,"h":0.06},
{"i":801,"e":0,"m":0,"h":0.05},{"i":802,"e":0,"m":0,"h":0.03},{"i":803,"e":0,"m":0.01,"h":0.02},{"i":804,"e":0,"m":0.02,"h":0.04},{"i":805,"e":0,"m":0.03,"h":0.06},{"i":806,"e":0,"m":0.02,"h":0.05},{"i":807,"e":0,"m":0.01,"h":0.03},{"i":808,"e":0,"m":0,"h":0.04},{"i":809,"e":0,"m":0,"h":0.06},{"i":810,"e":0,"m":0,"h":0.05},
{"i":811,"e":0,"m":0,"h":0.04},{"i":812,"e":0,"m":0,"h":0.06},{"i":813,"e":0,"m":0.01,"h":0.07},{"i":814,"e":0,"m":0.03,"h":0.05},{"i":815,"e":0,"m":0.02,"h":0.04},{"i":816,"e":0,"m":0.01,"h":0.03},{"i":817,"e":0,"m":0,"h":0.05},{"i":818,"e":0,"m":0,"h":0.07},{"i":819,"e":0,"m":0,"h":0.09},{"i":820,"e":0,"m":0,"h":0.1},
{"i":821,"e":0,"m":0,"h":0.08},{"i":822,"e":0,"m":0,"h":0.06},{"i":823,"e":0,"m":0,"h":0.05},{"i":824,"e":0,"m":0,"h":0.07},{"i":825,"e":0,"m":0,"h":0.09},{"i":826,"e":0,"m":0.01,"h":0.11},{"i":827,"e":0,"m":0.02,"h":0.13},{"i":828,"e":0,"m":0.03,"h":0.12},{"i":829,"e":0,"m":0.02,"h":0.14},{"i":830,"e":0,"m":0.01,"h":0.16},
{"i":831,"e":0,"m":0,"h":0.15},{"i":832,"e":0,"m":0,"h":0.13},{"i":833,"e":0,"m":0,"h":0.1},{"i":834,"e":0,"m":0,"h":0.08},{"i":835,"e":0,"m":0,"h":0.12},{"i":836,"e":0,"m":0.01,"h":0.14},{"i":837,"e":0,"m":0,"h":0.16},{"i":838,"e":0,"m":0,"h":0.13},{"i":839,"e":0,"m":0,"h":0.1},{"i":840,"e":0,"m":0,"h":0.07},
{"i":841,"e":0,"m":0,"h":0.06},{"i":842,"e":0,"m":0.01,"h":0.05},{"i":843,"e":0,"m":0.02,"h":0.04},{"i":844,"e":0,"m":0.03,"h":0.06},{"i":845,"e":0,"m":0.02,"h":0.03},{"i":846,"e":0,"m":0.01,"h":0.05},{"i":847,"e":0,"m":0,"h":0.07},{"i":848,"e":0,"m":0,"h":0.06},{"i":849,"e":0,"m":0,"h":0.04},{"i":850,"e":0,"m":0,"h":0.05},
{"i":851,"e":0,"m":0,"h":0.07},{"i":852,"e":0,"m":0,"h":0.1},{"i":853,"e":0,"m":0,"h":0.12},{"i":854,"e":0,"m":0,"h":0.09},{"i":855,"e":0,"m":0,"h":0.11},{"i":856,"e":0,"m":0,"h":0.13},{"i":857,"e":0,"m":0,"h":0.1},{"i":858,"e":0,"m":0,"h":0.08},{"i":859,"e":0,"m":0,"h":0.06},{"i":860,"e":0,"m":0,"h":0.07},
{"i":861,"e":0,"m":0,"h":0.09},{"i":862,"e":0,"m":0,"h":0.11},{"i":863,"e":0,"m":0,"h":0.13},{"i":864,"e":0,"m":0,"h":0.15},{"i":865,"e":0,"m":0,"h":0.17},{"i":866,"e":0,"m":0,"h":0.14},{"i":867,"e":0,"m":0.01,"h":0.12},{"i":868,"e":0,"m":0.02,"h":0.16},{"i":869,"e":0,"m":0.03,"h":0.18},{"i":870,"e":0,"m":0.05,"h":0.19},
{"i":871,"e":0,"m":0.06,"h":0.17},{"i":872,"e":0,"m":0.08,"h":0.15},{"i":873,"e":0,"m":0.07,"h":0.18},{"i":874,"e":0,"m":0.05,"h":0.2},{"i":875,"e":0,"m":0.03,"h":0.21},{"i":876,"e":0,"m":0.02,"h":0.19},{"i":877,"e":0,"m":0.01,"h":0.16},{"i":878,"e":0,"m":0,"h":0.14},{"i":879,"e":0,"m":0,"h":0.12},{"i":880,"e":0,"m":0,"h":0.1},
{"i":881,"e":0,"m":0.01,"h":0.13},{"i":882,"e":0,"m":0.02,"h":0.15},{"i":883,"e":0,"m":0.03,"h":0.17},{"i":884,"e":0,"m":0.04,"h":0.14},{"i":885,"e":0,"m":0.03,"h":0.11},{"i":886,"e":0,"m":0.02,"h":0.09},{"i":887,"e":0,"m":0.01,"h":0.07},{"i":888,"e":0,"m":0,"h":0.1},{"i":889,"e":0,"m":0.01,"h":0.12},{"i":890,"e":0,"m":0.03,"h":0.1},
{"i":891,"e":0,"m":0.05,"h":0.08},{"i":892,"e":0,"m":0.07,"h":0.06},{"i":893,"e":0,"m":0.06,"h":0.09},{"i":894,"e":0,"m":0.04,"h":0.11},{"i":895,"e":0,"m":0.12,"h":0.13},{"i":896,"e":0,"m":0.07,"h":0.15},{"i":897,"e":0,"m":0.05,"h":0.14},{"i":898,"e":0,"m":0.03,"h":0.12},{"i":899,"e":0,"m":0.02,"h":0.16},{"i":900,"e":0,"m":0.01,"h":0.17},
{"i":901,"e":0,"m":0,"h":0.15},{"i":902,"e":0,"m":0,"h":0.13},{"i":903,"e":0,"m":0,"h":0.11},{"i":904,"e":0,"m":0,"h":0.14},{"i":905,"e":0,"m":0,"h":0.12},{"i":906,"e":0,"m":0,"h":0.1},{"i":907,"e":0,"m":0,"h":0.08},{"i":908,"e":0,"m":0,"h":0.06},{"i":909,"e":0,"m":0,"h":0.1},{"i":910,"e":0,"m":0,"h":0.12},
{"i":911,"e":0,"m":0,"h":0.1},{"i":912,"e":0,"m":0,"h":0.08},{"i":913,"e":0,"m":0,"h":0.06},{"i":914,"e":0,"m":0,"h":0.05},{"i":915,"e":0,"m":0,"h":0.04},{"i":916,"e":0,"m":0.01,"h":0.06},{"i":917,"e":0,"m":0,"h":0.05},{"i":918,"e":0,"m":0,"h":0.03},{"i":919,"e":0,"m":0,"h":0.04},{"i":920,"e":0,"m":0,"h":0.05},
{"i":921,"e":0,"m":0,"h":0.03},{"i":922,"e":0,"m":0.01,"h":0.02},{"i":923,"e":0,"m":0.03,"h":0.04},{"i":924,"e":0,"m":0.05,"h":0.03},{"i":925,"e":0,"m":0.03,"h":0.05},{"i":926,"e":0,"m":0.01,"h":0.04},{"i":927,"e":0,"m":0,"h":0.02},{"i":928,"e":0,"m":0,"h":0.03},{"i":929,"e":0,"m":0,"h":0.04},{"i":930,"e":0,"m":0,"h":0.02},
{"i":931,"e":0,"m":0,"h":0.01},{"i":932,"e":0,"m":0,"h":0.03},{"i":933,"e":0,"m":0,"h":0.04},{"i":934,"e":0,"m":0,"h":0.02},{"i":935,"e":0,"m":0,"h":0.03},{"i":936,"e":0,"m":0,"h":0.05},{"i":937,"e":0,"m":0,"h":0.04},{"i":938,"e":0,"m":0,"h":0.02},{"i":939,"e":0,"m":0,"h":0.03},{"i":940,"e":0,"m":0,"h":0.04},
{"i":941,"e":0,"m":0,"h":0.03},{"i":942,"e":0,"m":0.01,"h":0.02},{"i":943,"e":0,"m":0.03,"h":0.04},{"i":944,"e":0,"m":0.05,"h":0.05},{"i":945,"e":0,"m":0.04,"h":0.03},{"i":946,"e":0,"m":0.02,"h":0.04},{"i":947,"e":0,"m":0,"h":0.06},{"i":948,"e":0,"m":0,"h":0.05},{"i":949,"e":0,"m":0,"h":0.03},{"i":950,"e":0,"m":0,"h":0.04},
{"i":951,"e":0,"m":0,"h":0.06},{"i":952,"e":0,"m":0,"h":0.07},{"i":953,"e":0,"m":0,"h":0.05},{"i":954,"e":0,"m":0,"h":0.04},{"i":955,"e":0,"m":0,"h":0.06},{"i":956,"e":0,"m":0,"h":0.08},{"i":957,"e":0,"m":0,"h":0.07},{"i":958,"e":0,"m":0,"h":0.05},{"i":959,"e":0,"m":0,"h":0.04},{"i":960,"e":0,"m":0,"h":0.06},
{"i":961,"e":0,"m":0,"h":0.08},{"i":962,"e":0,"m":0,"h":0.1},{"i":963,"e":0,"m":0,"h":0.07},{"i":964,"e":0,"m":0,"h":0.05},{"i":965,"e":0,"m":0,"h":0.06},{"i":966,"e":0,"m":0,"h":0.09},{"i":967,"e":0,"m":0,"h":0.11},{"i":968,"e":0,"m":0,"h":0.08},{"i":969,"e":0,"m":0,"h":0.06},{"i":970,"e":0,"m":0,"h":0.05},
{"i":971,"e":0,"m":0,"h":0.07},{"i":972,"e":0,"m":0,"h":0.09},{"i":973,"e":0,"m":0,"h":0.12},{"i":974,"e":0,"m":0,"h":0.15},{"i":975,"e":0,"m":0.01,"h":0.11},{"i":976,"e":0,"m":0.02,"h":0.08},{"i":977,"e":0,"m":0.04,"h":0.06},{"i":978,"e":0,"m":0.03,"h":0.04},{"i":979,"e":0,"m":0.04,"h":0.05},{"i":980,"e":0,"m":0.02,"h":0.07},
{"i":981,"e":0,"m":0.03,"h":0.06},{"i":982,"e":0,"m":0.04,"h":0.04},{"i":983,"e":0,"m":0.02,"h":0.05},{"i":984,"e":0,"m":0.01,"h":0.08},{"i":985,"e":0,"m":0.03,"h":0.1},{"i":986,"e":0,"m":0.02,"h":0.07},{"i":987,"e":0,"m":0,"h":0.05},{"i":988,"e":0,"m":0,"h":0.04},{"i":989,"e":0,"m":0,"h":0.06},{"i":990,"e":0,"m":0,"h":0.09},
{"i":991,"e":0,"m":0,"h":0.07},{"i":992,"e":0,"m":0,"h":0.05},{"i":993,"e":0,"m":0,"h":0.08},{"i":994,"e":0,"m":0.01,"h":0.1},{"i":995,"e":0,"m":0,"h":0.12},{"i":996,"e":0,"m":0,"h":0.09},{"i":997,"e":0,"m":0,"h":0.07},{"i":998,"e":0,"m":0,"h":0.1},{"i":999,"e":0,"m":0,"h":0.11},{"i":1000,"e":0,"m":0,"h":0.13}
 ]
},
"columns":3,
"spacing":94,
"bounds":"flush",
"concat":[
 {"width":264,"height":264,"title":{"text":"No. Of Clusters","offset":8.5},
  "layer":[
   {"data":{"name":"range"},"transform":[{"filter":"datum.p==1"}],"mark":{"type":"rule","color":"#000","strokeWidth":1.3,"clip":true},
    "encoding":{"x":{"field":"lo","type":"quantitative","scale":{"domain":[-0.4,10.4],"nice":false,"zero":false},"axis":{"values":[0,2,4,6,8,10],"format":"d","labelFontSize":20,"labelPadding":31.8,"labelBaseline":"alphabetic","labelAlign":"center"}},"x2":{"field":"hi"},"y":{"datum":0,"type":"quantitative","scale":{"domain":[-39.96,1038.96],"nice":false,"zero":false},"axis":null}}},
   {"data":{"name":"hist"},"transform":[{"filter":"datum.p==1"}],"mark":{"type":"rect","color":"#000","stroke":"#000","strokeWidth":1,"clip":true},
    "encoding":{"x":{"field":"b0","type":"quantitative"},"x2":{"field":"b1"},"y":{"field":"c","type":"quantitative"},"y2":{"datum":0}}},
   {"data":{"values":[{}]},"mark":{"type":"rule","color":"#000","strokeWidth":1.5},
    "encoding":{"x":{"datum":0},"x2":{"datum":10},"y":{"datum":-39.96}}}
  ]},
 {"width":264,"height":264,"title":{"text":"No. Of Clusters","offset":8.5},
  "layer":[
   {"data":{"name":"range"},"transform":[{"filter":"datum.p==2"}],"mark":{"type":"rule","color":"#000","strokeWidth":1.3,"clip":true},
    "encoding":{"x":{"field":"lo","type":"quantitative","scale":{"domain":[-0.4,10.4],"nice":false,"zero":false},"axis":{"values":[0,2,4,6,8,10],"format":"d","labelFontSize":20,"labelPadding":31.8,"labelBaseline":"alphabetic","labelAlign":"center"}},"x2":{"field":"hi"},"y":{"datum":0,"type":"quantitative","scale":{"domain":[-27.44,713.44],"nice":false,"zero":false},"axis":null}}},
   {"data":{"name":"hist"},"transform":[{"filter":"datum.p==2"}],"mark":{"type":"rect","color":"#000","stroke":"#000","strokeWidth":1,"clip":true},
    "encoding":{"x":{"field":"b0","type":"quantitative"},"x2":{"field":"b1"},"y":{"field":"c","type":"quantitative"},"y2":{"datum":0}}},
   {"data":{"values":[{}]},"mark":{"type":"rule","color":"#000","strokeWidth":1.5},
    "encoding":{"x":{"datum":0},"x2":{"datum":10},"y":{"datum":-27.44}}}
  ]},
 {"width":264,"height":264,"title":{"text":"No. Of Clusters","offset":8.5},
  "layer":[
   {"data":{"name":"range"},"transform":[{"filter":"datum.p==3"}],"mark":{"type":"rule","color":"#000","strokeWidth":1.3,"clip":true},
    "encoding":{"x":{"field":"lo","type":"quantitative","scale":{"domain":[-0.4,10.4],"nice":false,"zero":false},"axis":{"values":[0,2,4,6,8,10],"format":"d","labelFontSize":20,"labelPadding":31.8,"labelBaseline":"alphabetic","labelAlign":"center"}},"x2":{"field":"hi"},"y":{"datum":0,"type":"quantitative","scale":{"domain":[-16.52,429.52],"nice":false,"zero":false},"axis":null}}},
   {"data":{"name":"hist"},"transform":[{"filter":"datum.p==3"}],"mark":{"type":"rect","color":"#000","stroke":"#000","strokeWidth":1,"clip":true},
    "encoding":{"x":{"field":"b0","type":"quantitative"},"x2":{"field":"b1"},"y":{"field":"c","type":"quantitative"},"y2":{"datum":0}}},
   {"data":{"values":[{}]},"mark":{"type":"rule","color":"#000","strokeWidth":1.5},
    "encoding":{"x":{"datum":0},"x2":{"datum":10},"y":{"datum":-16.52}}}
  ]},
 {"width":264,"height":263,"title":{"text":"Hamming Dist Easy","offset":4.5},"view":{"stroke":"#000","strokeWidth":1.5},
  "data":{"name":"ham"},
  "mark":{"type":"point","filled":true,"shape":"circle","size":8,"color":"#000","opacity":1},
  "encoding":{
   "x":{"field":"i","type":"quantitative","scale":{"domain":[-40,1040],"nice":false,"zero":false},"axis":{"values":[0,200,400,600,800,1000],"format":"d","labelFontSize":16,"labelPadding":29.5,"labelBaseline":"alphabetic","labelAlign":"center"}},
   "y":{"field":"e","type":"quantitative","scale":{"domain":[-0.04,1.04],"nice":false,"zero":false},"axis":{"values":[0,0.2,0.4,0.6,0.8,1],"format":".1f","labelFontSize":16,"labelAngle":-90,"labelAlign":"center","labelBaseline":"alphabetic","labelPadding":17.5}}
  }},
 {"width":264,"height":263,"title":{"text":"Hamming Dist Med","offset":4.5},"view":{"stroke":"#000","strokeWidth":1.5},
  "data":{"name":"ham"},
  "mark":{"type":"point","filled":true,"shape":"circle","size":8,"color":"#000","opacity":1},
  "encoding":{
   "x":{"field":"i","type":"quantitative","scale":{"domain":[-40,1040],"nice":false,"zero":false},"axis":{"values":[0,200,400,600,800,1000],"format":"d","labelFontSize":16,"labelPadding":29.5,"labelBaseline":"alphabetic","labelAlign":"center"}},
   "y":{"field":"m","type":"quantitative","scale":{"domain":[-0.04,1.04],"nice":false,"zero":false},"axis":{"values":[0,0.2,0.4,0.6,0.8,1],"format":".1f","labelFontSize":16,"labelAngle":-90,"labelAlign":"center","labelBaseline":"alphabetic","labelPadding":17.5}}
  }},
 {"width":264,"height":263,"title":{"text":"Hamming Dist Hard","offset":4.5},"view":{"stroke":"#000","strokeWidth":1.5},
  "data":{"name":"ham"},
  "mark":{"type":"point","filled":true,"shape":"circle","size":8,"color":"#000","opacity":1},
  "encoding":{
   "x":{"field":"i","type":"quantitative","scale":{"domain":[-40,1040],"nice":false,"zero":false},"axis":{"values":[0,200,400,600,800,1000],"format":"d","labelFontSize":16,"labelPadding":29.5,"labelBaseline":"alphabetic","labelAlign":"center"}},
   "y":{"field":"h","type":"quantitative","scale":{"domain":[-0.04,1.04],"nice":false,"zero":false},"axis":{"values":[0,0.2,0.4,0.6,0.8,1],"format":".1f","labelFontSize":16,"labelAngle":-90,"labelAlign":"center","labelBaseline":"alphabetic","labelPadding":17.5}}
  }}
]
}
